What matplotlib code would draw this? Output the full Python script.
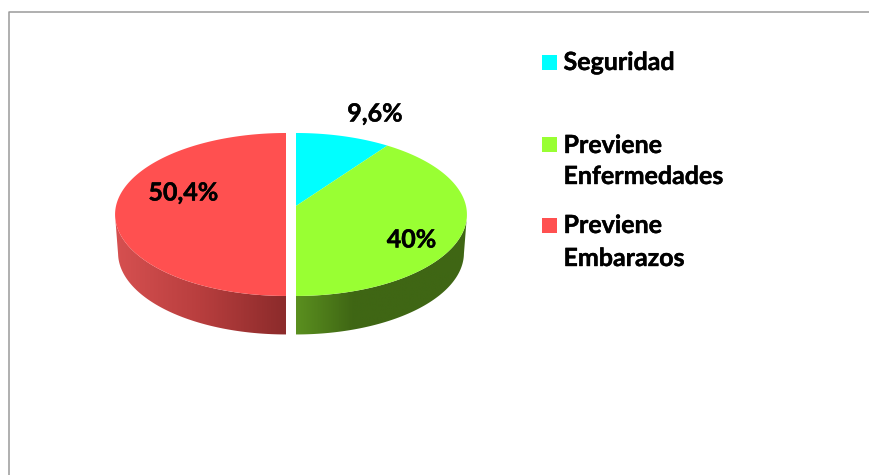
import numpy as np
import matplotlib
matplotlib.use("Agg")
import matplotlib.pyplot as plt
import matplotlib.patheffects as pe
from matplotlib.colors import LinearSegmentedColormap
from matplotlib.patches import Polygon, Rectangle

# Datos (las porciones se leen del dibujo; las etiquetas del texto)
categorias = ["Seguridad", "Previene\nEnfermedades", "Previene\nEmbarazos"]
porciones = [9.9, 40.1, 50.0]
etiquetas = ["9,6%", "40%", "50,4%"]

colores = ["#00FFFF", "#99FF33", "#FF5050"]
lados = {
    1: ["#5A8F1F", "#3F6614", "#3F6614", "#3F6614"],
    2: ["#D65050", "#B83E3E", "#8C2B2B"],
}

fig = plt.figure(figsize=(8.69, 4.75), dpi=100)
ax = fig.add_axes([0, 0, 1, 1])
ax.set_xlim(0, 869)
ax.set_ylim(475, 0)
ax.axis("off")

# Borde gris del grafico
ax.plot([8.5, 8.5, 869], [475, 11.5, 11.5], color="#9A9A9A", lw=1.1)

# Geometria del disco en perspectiva
cx = [296, 296, 286]
cy = 206
b, a, c = 170, 80.6, 0.104
alto = 38.5
ancho_base = 168 / 171


def borde(t):
    u, v = np.sin(t), np.cos(t)
    d = 1 + c * v
    return b * u / d, -a * v / d


inicio = 0
for i, p in enumerate(porciones):
    t = np.radians(np.linspace(inicio, inicio + p * 3.6, 200))
    inicio += p * 3.6
    x, y = borde(t)

    # Lado con degradado, solo la parte visible
    if i in lados:
        visible = (y + cy) >= 215
        x_sup, y_sup = x[visible], y[visible]
        sup = np.column_stack([cx[i] + x_sup, cy + y_sup])
        inf = np.column_stack([cx[i] + x_sup * ancho_base, cy + y_sup + alto])
        forma = Polygon(np.vstack([sup, inf[::-1]]), closed=True, fc="none", ec="none")
        ax.add_patch(forma)
        x0, x1 = forma.get_xy()[:, 0].min(), forma.get_xy()[:, 0].max()
        cmap = LinearSegmentedColormap.from_list("lado", lados[i])
        img = ax.imshow(np.linspace(0, 1, 64).reshape(1, -1), cmap=cmap, aspect="auto",
                        extent=[x0, x1, 340, 205], zorder=1)
        img.set_clip_path(forma)

    # Cara superior
    pts = np.vstack([[cx[i], cy], np.column_stack([cx[i] + x, cy + y])])
    ax.add_patch(Polygon(pts, closed=True, fc=colores[i], ec="none", zorder=2))

ax.set_xlim(0, 869)
ax.set_ylim(475, 0)

# Etiquetas de datos
fuente = dict(family="Lato", weight="bold", color="black", fontsize=18,
              path_effects=[pe.withStroke(linewidth=0.3, foreground="black")])
pos_etiquetas = [(375, 114), (411.5, 240), (183.5, 193)]
for texto, (xt, yt) in zip(etiquetas, pos_etiquetas):
    ax.text(xt, yt, texto, ha="center", va="center", zorder=3, fontstretch="normal", **fuente)

# Leyenda
y_cuadros = [55, 137, 218]
y_lineas = [[70], [153, 184], [233, 266]]
for cat, col, yc, ys in zip(categorias, colores, y_cuadros, y_lineas):
    ax.add_patch(Rectangle((542, yc), 15, 15, fc=col, ec="none", zorder=3))
    for linea, yl in zip(cat.split("\n"), ys):
        ax.text(563.5, yl, linea, ha="left", va="baseline", zorder=3, **fuente)

fig.savefig("out.png", dpi=100, facecolor="white")
